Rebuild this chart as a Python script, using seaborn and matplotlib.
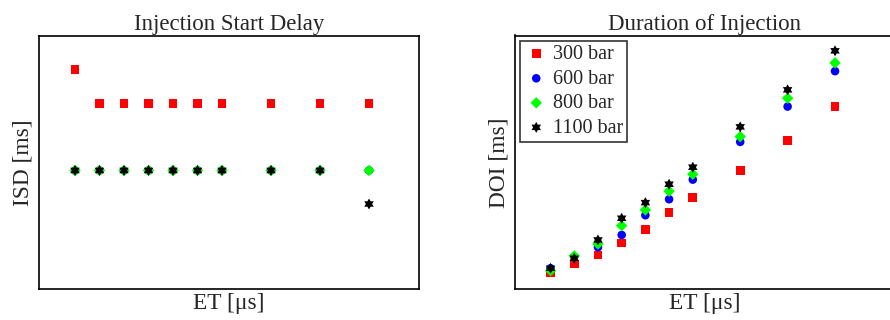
import numpy as np
import pandas as pd
import matplotlib
matplotlib.use('Agg')
import matplotlib.pyplot as plt
import seaborn as sns

# excitation times (us) - no tick labels in the original, spacing
et = [200, 400, 600, 800, 1000, 1200, 1400, 1800, 2200, 2600]
pressures = ['300 bar', '600 bar', '800 bar', '1100 bar']

# injection start delay [ms]
isd_300 = [0.44, 0.40, 0.40, 0.40, 0.40, 0.40, 0.40, 0.40, 0.40, 0.40]
isd_600 = [0.32, 0.32, 0.32, 0.32, 0.32, 0.32, 0.32, 0.32, 0.32, 0.32]
isd_800 = [0.32, 0.32, 0.32, 0.32, 0.32, 0.32, 0.32, 0.32, 0.32, 0.32]
isd_1100 = [0.32, 0.32, 0.32, 0.32, 0.32, 0.32, 0.32, 0.32, 0.32, 0.28]

# duration of injection [ms]
doi_300 = [0.163, 0.25, 0.34, 0.46, 0.593, 0.763, 0.913, 1.183, 1.483, 1.827]
doi_600 = [0.207, 0.323, 0.417, 0.54, 0.737, 0.897, 1.093, 1.47, 1.823, 2.177]
doi_800 = [0.183, 0.33, 0.45, 0.633, 0.79, 0.977, 1.147, 1.523, 1.907, 2.26]
doi_1100 = [0.207, 0.307, 0.49, 0.707, 0.863, 1.047, 1.217, 1.62, 1.99, 2.38]

# matlab-style hexagram marker (two overlapping triangles)
ang = np.pi / 2 + np.arange(12) * np.pi / 6
rad = np.where(np.arange(12) % 2 == 0, 1.0, 1 / np.sqrt(3))
hexagram = np.column_stack([rad * np.cos(ang), rad * np.sin(ang)])

colors = ['#ff0000', '#0000ff', '#00ff00', '#000000']
markers = ['s', 'o', 'D', hexagram]
sizes = [40, 38, 34, 62]

sns.set_style('white')
plt.rcParams['font.family'] = ['Liberation Serif', 'DejaVu Serif']

fig = plt.figure(figsize=(8.9, 3.2), dpi=100)
ax1 = fig.add_axes([39 / 890, 31 / 320, 380 / 890, 253.5 / 320])
ax2 = fig.add_axes([515 / 890, 31 / 320, 380 / 890, 253.5 / 320])

isd = [isd_300, isd_600, isd_800, isd_1100]
doi = [doi_300, doi_600, doi_800, doi_1100]

for i in range(4):
    sns.scatterplot(x=et, y=isd[i], ax=ax1, marker=markers[i], color=colors[i],
                    s=sizes[i], edgecolor='none', linewidth=0, legend=False)
    sns.scatterplot(x=et, y=doi[i], ax=ax2, marker=markers[i], color=colors[i],
                    s=sizes[i], edgecolor='none', linewidth=0, label=pressures[i])

ax1.set_xlim(-94, 3008)
ax1.set_ylim(0.1786, 0.481)
ax2.set_xlim(-100, 3106)
ax2.set_ylim(0, 2.533)

ax1.set_title('Injection Start Delay', fontsize=16.5, pad=4)
ax2.set_title('Duration of Injection', fontsize=16.5, pad=4)
ax1.set_xlabel('ET [μs]', fontsize=16.8, labelpad=3)
ax2.set_xlabel('ET [μs]', fontsize=16.8, labelpad=3)
ax1.set_ylabel('ISD [ms]', fontsize=16.8, labelpad=4)
ax2.set_ylabel('DOI [ms]', fontsize=16.8, labelpad=4)

for ax in [ax1, ax2]:
    ax.set_xticks([])
    ax.set_yticks([])
    for sp in ax.spines.values():
        sp.set_color('black')
        sp.set_linewidth(1.2)

leg = ax2.legend(loc='upper left', fontsize=14.5, frameon=True, fancybox=False,
                 borderaxespad=0.25, handletextpad=0.23, labelspacing=0.27,
                 borderpad=0.22, handlelength=1.17, markerscale=1.0)
leg.get_frame().set_edgecolor('black')
leg.get_frame().set_linewidth(1.2)

fig.savefig('out.png', dpi=100)
